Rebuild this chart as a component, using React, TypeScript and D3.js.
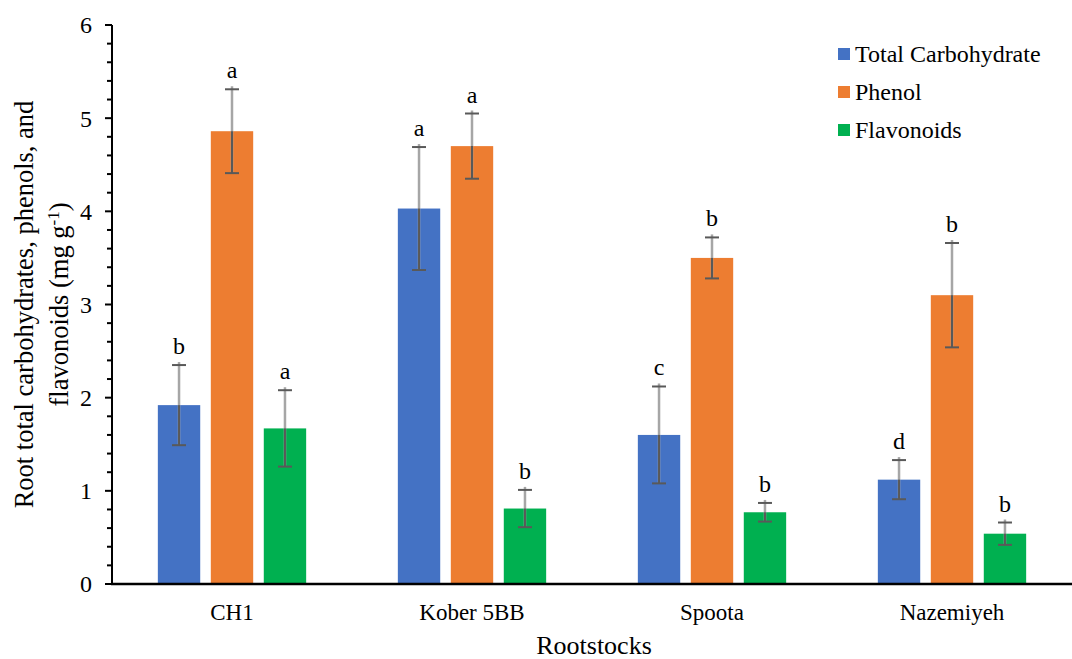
import React from "react";
import * as d3 from "d3";

// data
const rootstocks = ["CH1", "Kober 5BB", "Spoota", "Nazemiyeh"];
const seriesNames = ["Total Carbohydrate", "Phenol", "Flavonoids"];
const seriesColors = ["#4472c4", "#ed7d31", "#00b050"];

const carbohydrate = [1.92, 4.03, 1.6, 1.12];
const carbohydrateErr = [0.43, 0.66, 0.52, 0.21];
const phenol = [4.86, 4.7, 3.5, 3.1];
const phenolErr = [0.45, 0.35, 0.22, 0.56];
const flavonoids = [1.67, 0.81, 0.77, 0.54];
const flavonoidsErr = [0.41, 0.2, 0.1, 0.12];

const carbohydrateLetters = ["b", "a", "c", "d"];
const phenolLetters = ["a", "a", "b", "b"];
const flavonoidsLetters = ["a", "b", "b", "b"];

const yTicks = [0, 1, 2, 3, 4, 5, 6];

const W = 1072;
const H = 659;
const margin = { top: 25, right: 0, bottom: 75, left: 112 };
const FONT = "Liberation Serif, Times New Roman, DejaVu Serif, serif";

const App = () => {
  const innerW = W - margin.left - margin.right;
  const innerH = H - margin.top - margin.bottom;

  const values = [carbohydrate, phenol, flavonoids];
  const errors = [carbohydrateErr, phenolErr, flavonoidsErr];
  const letters = [carbohydrateLetters, phenolLetters, flavonoidsLetters];

  const x0 = d3
    .scaleBand()
    .domain(rootstocks)
    .range([0, innerW])
    .paddingInner(0.382)
    .paddingOuter(0.191);
  const x1 = d3
    .scaleBand()
    .domain(seriesNames)
    .range([0, x0.bandwidth()])
    .paddingInner(0.2);
  const y = d3.scaleLinear().domain([0, 6]).range([innerH, 0]);

  const minorTicks = d3.range(0, 6.0001, 0.2).filter(t => Math.abs(t - Math.round(t)) > 0.01);

  return (
    <svg
      width={W}
      height={H}
      style={{ position: "absolute", left: 0, top: 0, background: "#fff", fontFamily: FONT }}
    >
      <g transform={`translate(${margin.left},${margin.top})`}>
        {/* bars */}
        {rootstocks.map((r, i) => (
          <g key={r} transform={`translate(${x0(r)},0)`}>
            {seriesNames.map((s, k) => {
              const v = values[k][i];
              const e = errors[k][i];
              const bx = x1(s)!;
              const cx = bx + x1.bandwidth() / 2;
              return (
                <g key={s}>
                  <rect
                    x={bx}
                    y={y(v)}
                    width={x1.bandwidth()}
                    height={innerH - y(v)}
                    fill={seriesColors[k]}
                  />
                  <line x1={cx} x2={cx} y1={y(v - e)} y2={y(v + e) - 3} stroke="#a6a6a6" strokeWidth={2.5} />
                  <line x1={cx} x2={cx} y1={y(v - e)} y2={y(v)} stroke="#595959" strokeWidth={2} />
                  <line x1={cx - 7} x2={cx + 7} y1={y(v + e)} y2={y(v + e)} stroke="#595959" strokeWidth={2} />
                  <line x1={cx - 7} x2={cx + 7} y1={y(v - e)} y2={y(v - e)} stroke="#595959" strokeWidth={2} />
                  <text x={cx} y={y(v + e) - 11} textAnchor="middle" fontSize={24} fill="#000">
                    {letters[k][i]}
                  </text>
                </g>
              );
            })}
          </g>
        ))}

        {/* y axis */}
        <line x1={0} x2={0} y1={0} y2={innerH + 1} stroke="#000" strokeWidth={2} />
        {yTicks.map(t => (
          <g key={t} transform={`translate(0,${y(t)})`}>
            <line x1={-7} x2={0} stroke="#000" strokeWidth={2} />
            <text x={-20} dy="0.35em" textAnchor="end" fontSize={24} fill="#000">
              {t}
            </text>
          </g>
        ))}
        {minorTicks.map(t => (
          <line key={t} x1={-5} x2={0} y1={y(t)} y2={y(t)} stroke="#000" strokeWidth={2} />
        ))}

        {/* x axis */}
        <line x1={-1} x2={innerW} y1={innerH} y2={innerH} stroke="#000" strokeWidth={2.5} />
        {rootstocks.map(r => (
          <text
            key={r}
            x={x0(r)! + x0.bandwidth() / 2}
            y={innerH + 36}
            textAnchor="middle"
            fontSize={23}
            fill="#000"
          >
            {r}
          </text>
        ))}

        {/* axis titles */}
        <text x={innerW / 2 + 2} y={innerH + 70} textAnchor="middle" fontSize={26} fill="#000">
          Rootstocks
        </text>
        <text
          transform={`translate(${33 - margin.left},${innerH / 2}) rotate(-90)`}
          textAnchor="middle"
          fontSize={26.5}
          fill="#000"
        >
          <tspan x={0} dy={0}>Root total carbohydrates, phenols, and</tspan>
          <tspan x={0} dy={35}>
            flavonoids (mg g
            <tspan dy={-9} fontSize={17}>-1</tspan>
            <tspan dy={9}>)</tspan>
          </tspan>
        </text>
      </g>

      {/* legend */}
      {seriesNames.map((s, k) => (
        <g key={s} transform={`translate(838,${54 + k * 38})`}>
          <rect x={0} y={-6} width={12} height={12} fill={seriesColors[k]} />
          <text x={17} dy="0.35em" fontSize={24} fill="#000">
            {s}
          </text>
        </g>
      ))}
    </svg>
  );
};

export default App;
